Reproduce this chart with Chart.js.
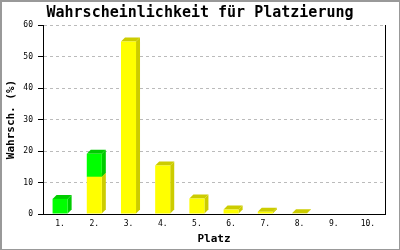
<!DOCTYPE html>
<html>
<head>
<meta charset="utf-8">
<script src="https://cdn.jsdelivr.net/npm/chart.js@4"></script>
<style>
  html, body { margin: 0; padding: 0; background: #fff; }
  #wrap { width: 400px; height: 250px; }
</style>
</head>
<body>
<div id="wrap"><canvas id="chart" width="400" height="250"></canvas></div>
<script>
const places = ['1.', '2.', '3.', '4.', '5.', '6.', '7.', '8.', '9.', '10.'];
const yellowValues = [0, 11.8, 54.8, 15.4, 4.9, 1.4, 0.7, 0.2, 0, 0];
const greenValues = [4.8, 7.3, 0, 0, 0, 0, 0, 0, 0, 0];
const yTicks = [0, 10, 20, 30, 40, 50, 60];

const mono = 'DejaVu Sans Mono';
const depth = 4;

// white background and grey frame round the picture
const framePlugin = {
  id: 'frame',
  beforeDraw(chart) {
    const ctx = chart.ctx;
    ctx.save();
    ctx.fillStyle = '#fff';
    ctx.fillRect(0, 0, chart.width, chart.height);
    ctx.restore();
  },
  afterDraw(chart) {
    const ctx = chart.ctx;
    ctx.save();
    ctx.strokeStyle = '#999';
    ctx.lineWidth = 1;
    ctx.strokeRect(0.5, 0.5, chart.width - 1, chart.height - 1);
    ctx.strokeRect(1.5, 1.5, chart.width - 2, chart.height - 2);
    ctx.restore();
  }
};

// darker side and top faces behind the bar fronts
const bar3dPlugin = {
  id: 'bar3d',
  beforeDatasetsDraw(chart) {
    const ctx = chart.ctx;
    ctx.save();
    chart.data.datasets.forEach((ds, i) => {
      const meta = chart.getDatasetMeta(i);
      meta.data.forEach((bar, j) => {
        if (!ds.data[j]) return;
        const p = bar.getProps(['x', 'y', 'base', 'width'], true);
        const left = p.x - p.width / 2;
        const right = p.x + p.width / 2;
        const top = Math.min(p.y, p.base);
        const bottom = Math.max(p.y, p.base);
        ctx.fillStyle = ds.sideColor;
        ctx.beginPath();
        ctx.moveTo(right, bottom);
        ctx.lineTo(right, top);
        ctx.lineTo(right + depth, top - depth);
        ctx.lineTo(right + depth, bottom - depth);
        ctx.closePath();
        ctx.fill();
        ctx.beginPath();
        ctx.moveTo(left, top);
        ctx.lineTo(left + depth, top - depth);
        ctx.lineTo(right + depth, top - depth);
        ctx.lineTo(right, top);
        ctx.closePath();
        ctx.fill();
      });
    });
    ctx.restore();
  }
};

new Chart(document.getElementById('chart'), {
  type: 'bar',
  data: {
    labels: places,
    datasets: [
      { data: yellowValues, backgroundColor: '#ffff00', sideColor: '#cccc00' },
      { data: greenValues, backgroundColor: '#00ff00', sideColor: '#00cc00' }
    ]
  },
  options: {
    responsive: false,
    animation: false,
    events: [],
    layout: { padding: 0 },
    datasets: { bar: { categoryPercentage: 1, barPercentage: 0.44, borderWidth: 0 } },
    plugins: {
      legend: { display: false },
      tooltip: { enabled: false },
      title: {
        display: true,
        text: 'Wahrscheinlichkeit für Platzierung',
        color: '#000',
        font: { family: mono, size: 15, weight: 'bold', lineHeight: 1.2 },
        padding: { top: 4, bottom: 3 }
      }
    },
    scales: {
      x: {
        stacked: true,
        grid: { drawOnChartArea: false, drawTicks: false },
        border: { color: '#000', width: 1 },
        ticks: { color: '#000', font: { family: mono, size: 8 }, padding: 5, maxRotation: 0 },
        title: {
          display: true,
          text: 'Platz',
          color: '#000',
          font: { family: mono, size: 11, weight: 'bold' },
          padding: { top: 0, bottom: 4 }
        },
        afterFit(scale) { scale.height = 36; }
      },
      y: {
        stacked: true,
        min: 0,
        max: 60,
        afterBuildTicks(scale) { scale.ticks = yTicks.map(v => ({ value: v })); },
        grid: { color: '#bbbbbb', tickColor: '#000', tickLength: 5 },
        border: { color: '#000', width: 1, dash: [3, 3] },
        ticks: { color: '#000', font: { family: mono, size: 8 }, padding: 5 },
        title: {
          display: true,
          text: 'Wahrsch. (%)',
          color: '#000',
          font: { family: mono, size: 11, weight: 'bold' },
          padding: { top: 5, bottom: 0 }
        },
        afterFit(scale) { scale.width = 43; }
      },
      yRight: {
        position: 'right',
        min: 0,
        max: 60,
        grid: { drawOnChartArea: false, drawTicks: false },
        border: { color: '#000', width: 1 },
        ticks: { display: false },
        afterFit(scale) { scale.width = 15; }
      }
    }
  },
  plugins: [framePlugin, bar3dPlugin]
});
</script>
</body>
</html>
